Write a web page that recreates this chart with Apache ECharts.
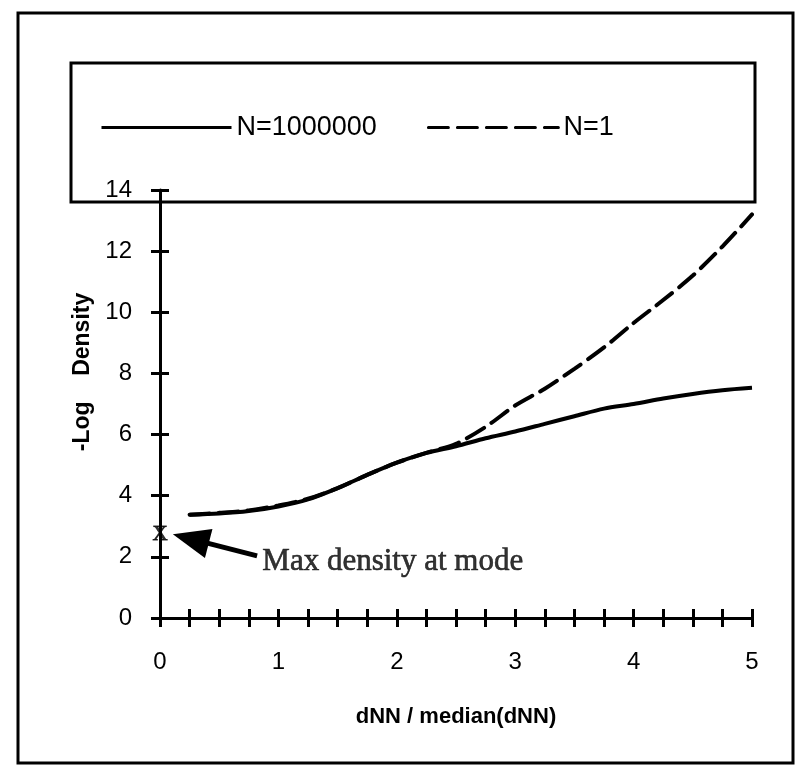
<!DOCTYPE html>
<html>
<head>
<meta charset="utf-8">
<script src="https://cdn.jsdelivr.net/npm/echarts@6/dist/echarts.min.js"></script>
<style>html,body{margin:0;padding:0;background:#fff;}#c{width:801px;height:782px;}</style>
</head>
<body>
<div id="c"></div>
<script>
const xValues = [0.25,0.5,0.75,1.0,1.25,1.5,1.75,2.0,2.25,2.5,2.75,3.0,3.25,3.5,3.75,4.0,4.25,4.5,4.75,5.0];
const solidY  = [3.38,3.42,3.5,3.65,3.88,4.25,4.68,5.08,5.4,5.62,5.88,6.1,6.35,6.6,6.85,7.0,7.18,7.33,7.45,7.53];
const dashedY = [3.38,3.44,3.52,3.68,3.9,4.25,4.68,5.08,5.4,5.7,6.25,6.95,7.5,8.15,8.85,9.65,10.4,11.2,12.15,13.2];
const seriesNames = ['N=1000000', 'N=1'];
const modePoint = [0, 2.74];
const arrowTail = [0.82, 2.03];
const arrowHeadCenter = [0.26, 2.59];
const noteText = 'Max density at mode';
const notePoint = [0.86, 1.85];
const xMin = 0, xMax = 5, xStep = 0.25;
const yMin = 0, yMax = 14, yStep = 2;
const xAxisTitle = 'dNN / median(dNN)';
const yAxisTitle = '-Log    Density';

const chart = echarts.init(document.getElementById('c'), null, {renderer: 'canvas'});
const sans = 'Liberation Sans, Arial, sans-serif';
const serif = 'Liberation Serif, Times New Roman, serif';
const gridBox = {left: 160, right: 49, top: 190, bottom: 164};
const tickStyle = {color: '#000', width: 3};

function axisBase(extra) {
  return Object.assign({
    type: 'value',
    splitLine: {show: false},
    axisLine: {show: true, onZero: false, lineStyle: {color: '#000', width: 3}},
    axisTick: {show: true, length: 9, lineStyle: tickStyle}
  }, extra);
}

const option = {
  animation: false,
  backgroundColor: '#fff',
  grid: [Object.assign({}, gridBox), Object.assign({}, gridBox)],
  legend: {
    data: seriesNames,
    left: 95, top: 109,
    itemWidth: 130, itemHeight: 10, itemGap: 50,
    itemStyle: {opacity: 0},
    lineStyle: {width: 3, color: '#000'},
    textStyle: {fontFamily: sans, fontSize: 27, color: '#000', padding: [6, 0, 0, 0]}
  },
  xAxis: [
    axisBase({gridIndex: 0, min: xMin, max: xMax, interval: xStep, position: 'bottom',
      axisLabel: {margin: 32, fontFamily: sans, fontSize: 24, color: '#000',
        formatter: v => (Math.abs(v - Math.round(v)) < 1e-9 ? String(Math.round(v)) : '')},
      name: xAxisTitle, nameLocation: 'middle', nameGap: 88,
      nameTextStyle: {fontFamily: sans, fontSize: 22, fontWeight: 'bold', color: '#000'}}),
    axisBase({gridIndex: 1, min: xMin, max: xMax, interval: xStep, position: 'bottom',
      axisLine: {show: false}, axisLabel: {show: false},
      axisTick: {show: true, inside: true, length: 9, lineStyle: tickStyle}})
  ],
  yAxis: [
    axisBase({gridIndex: 0, min: yMin, max: yMax, interval: yStep, position: 'left',
      axisLabel: {margin: 28, fontFamily: sans, fontSize: 24, color: '#000'},
      name: yAxisTitle, nameLocation: 'middle', nameGap: 47,
      nameTextStyle: {fontFamily: sans, fontSize: 23, fontWeight: 'bold', color: '#000', padding: [0, 0, 0, 64]}}),
    axisBase({gridIndex: 1, min: yMin, max: yMax, interval: yStep, position: 'left',
      axisLine: {show: false}, axisLabel: {show: false},
      axisTick: {show: true, inside: true, length: 9, lineStyle: tickStyle}})
  ],
  series: [
    {
      name: seriesNames[0], type: 'line', xAxisIndex: 0, yAxisIndex: 0,
      data: xValues.map((x, i) => [x, solidY[i]]),
      symbol: 'none', smooth: 0.3, color: '#000',
      lineStyle: {color: '#000', width: 4, type: 'solid'}
    },
    {
      name: seriesNames[1], type: 'line', xAxisIndex: 0, yAxisIndex: 0,
      data: xValues.map((x, i) => [x, dashedY[i]]),
      symbol: 'none', smooth: 0.3, color: '#000',
      lineStyle: {color: '#000', width: 4, type: [20, 9], cap: 'round'}
    },
    {
      name: 'mode', type: 'scatter', xAxisIndex: 0, yAxisIndex: 0,
      data: [modePoint], symbolSize: 1, itemStyle: {color: 'rgba(0,0,0,0)'},
      label: {show: true, position: 'inside', formatter: 'X', fontFamily: serif, fontSize: 21, color: '#000',
        textBorderColor: '#000', textBorderWidth: 0.8},
      silent: true, z: 5,
      markLine: {
        silent: true, symbol: ['none', 'triangle'], symbolSize: [30, 37],
        label: {show: false},
        lineStyle: {color: '#000', width: 5, type: 'solid'},
        itemStyle: {color: '#000'},
        data: [[{coord: arrowTail}, {coord: arrowHeadCenter}]]
      }
    },
    {
      name: 'note', type: 'scatter', xAxisIndex: 0, yAxisIndex: 0,
      data: [notePoint], symbolSize: 1, itemStyle: {color: 'rgba(0,0,0,0)'},
      silent: true,
      label: {show: true, position: 'right', distance: 0, formatter: noteText, fontFamily: serif, fontSize: 31, color: '#000',
        textBorderColor: '#000', textBorderWidth: 0.6}
    }
  ],
  graphic: [
    {type: 'rect', shape: {x: 18, y: 13, width: 775, height: 750}, style: {fill: 'none', stroke: '#000', lineWidth: 3}, silent: true, z: -1},
    {type: 'rect', shape: {x: 71, y: 63, width: 684, height: 139}, style: {fill: 'none', stroke: '#000', lineWidth: 3}, silent: true, z: -1}
  ]
};
chart.setOption(option);
</script>
</body>
</html>
